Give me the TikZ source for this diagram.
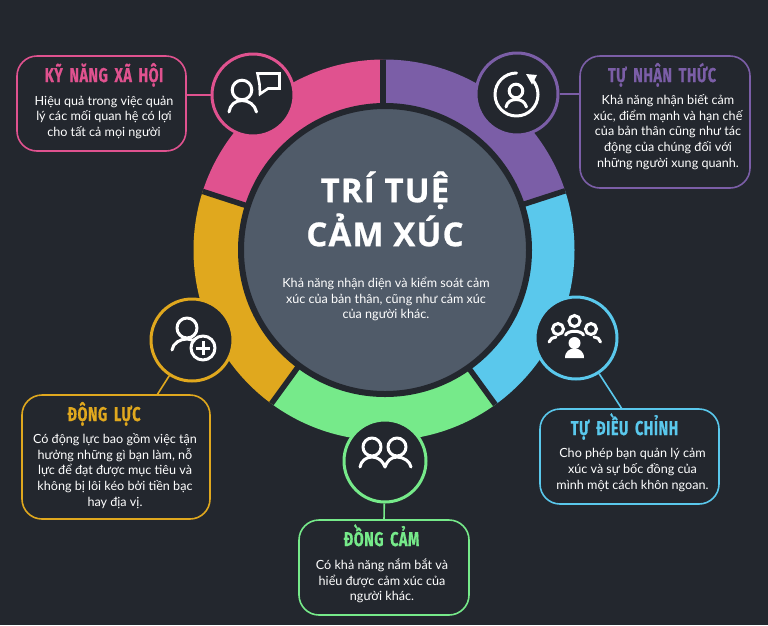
\documentclass[tikz,border=0pt]{standalone}
\usepackage{fontspec}
\usetikzlibrary{calc}
\setmainfont{Lato}
\newfontfamily\headfont[FakeStretch=0.72,LetterSpace=2.5,WordSpace=1.7,BoldFeatures={FakeBold=0.5}]{Fira Sans}
\newfontfamily\titlefont[LetterSpace=3.5,BoldFeatures={FakeBold=0.7}]{Open Sans}
\definecolor{bgdark}{HTML}{23272E}
\definecolor{discgrey}{HTML}{505B69}
\definecolor{cpink}{HTML}{E0528F}
\definecolor{cpurple}{HTML}{7B5EA7}
\definecolor{cblue}{HTML}{5AC8EC}
\definecolor{cgreen}{HTML}{76EA8A}
\definecolor{cyellow}{HTML}{E0A81E}
\tikzset{
  iconcircle/.style={circle,fill=bgdark,draw=#1,line width=3pt,minimum size=82pt,inner sep=0pt},
  infobox/.style={rectangle,rounded corners=20pt,fill=bgdark,draw=#1,line width=1.6pt,inner sep=0pt},
  link/.style={draw=#1,line width=1.6pt},
  headtext/.style={font=\headfont\bfseries\fontsize{20}{20}\selectfont,text=#1,inner sep=0pt,anchor=base},
  bodytext/.style={font=\fontsize{12.6}{15.8}\selectfont,text=white,align=center,inner sep=0pt},
  iconline/.style={draw=white,line width=3pt,line cap=round,line join=round},
}
\begin{document}
\begin{tikzpicture}[x=1pt,y=-1pt]
\useasboundingbox (0,0) rectangle (768,625);
\fill[bgdark] (0,0) rectangle (768,625);
\coordinate (ctr) at (385,250);
\coordinate (ringc) at (384,250);
\coordinate (spokec) at (383,250);
% ring
\begin{scope}
\clip (ringc) circle[radius=190.5pt];
\fill[cpink]   (spokec) -- ($(spokec)+(-90:400)$) -- ($(spokec)+(-126:400)$) -- ($(spokec)+(-162:400)$) -- cycle;
\fill[cpurple] (spokec) -- ($(spokec)+(-90:400)$) -- ($(spokec)+(-54:400)$) -- ($(spokec)+(-18:400)$) -- cycle;
\fill[cblue]   (spokec) -- ($(spokec)+(-18:400)$) -- ($(spokec)+(18:400)$) -- ($(spokec)+(54:400)$) -- cycle;
\fill[cgreen]  (spokec) -- ($(spokec)+(54:400)$) -- ($(spokec)+(90:400)$) -- ($(spokec)+(126:400)$) -- cycle;
\fill[cyellow] (spokec) -- ($(spokec)+(126:400)$) -- ($(spokec)+(162:400)$) -- ($(spokec)+(198:400)$) -- cycle;
\foreach \a in {-90,-18,54,126,198}
  \draw[bgdark,line width=5.5pt] (spokec) -- ($(spokec)+(\a:400)$);
\end{scope}
\node[circle,fill=discgrey,draw=bgdark,line width=6pt,minimum size=288pt,inner sep=0pt] (disc) at (ctr) {};
% free ends
\coordinate (lpink) at (186,95);
\coordinate (lpurple) at (580,94);
\coordinate (lyellow) at (157,395);
\coordinate (lblue) at (622,409);
\coordinate (lgreen) at (384,520);
% boxes
\node[infobox=cpink,minimum width=169pt,minimum height=95pt] (bpink) at (101.5,103.5) {};
\node[infobox=cpurple,minimum width=170pt,minimum height=132pt] (bpurple) at (665,122) {};
\node[infobox=cyellow,minimum width=188pt,minimum height=124pt] (byellow) at (116,457) {};
\node[infobox=cblue,minimum width=179pt,minimum height=95pt] (bblue) at (629.5,456.5) {};
\node[infobox=cgreen,minimum width=170pt,minimum height=95pt] (bgreen) at (384,567.5) {};
% circles
\node[iconcircle=cpink] (cpinkn) at (253,95) {};
\node[iconcircle=cpurple] (cpurplen) at (517,94) {};
\node[iconcircle=cyellow] (cyellown) at (192,340) {};
\node[iconcircle=cblue] (cbluen) at (576,338) {};
\node[iconcircle=cgreen] (cgreenn) at (385,461) {};
% connectors
\draw[link=cpink] (cpinkn) -- (lpink);
\draw[link=cpurple] (cpurplen) -- (lpurple);
\draw[link=cyellow] (cyellown) -- (lyellow);
\draw[link=cblue] (cbluen) -- (lblue);
\draw[link=cgreen] (cgreenn) -- (lgreen);
% centre text
\node[font=\titlefont\bfseries\fontsize{33}{44}\selectfont,text=white,align=center,inner sep=0pt] (title) at (385,209) {TRÍ TUỆ\\CẢM XÚC};
\node[bodytext] (ctext) at (386,299) {Khả năng nhận diện và kiểm soát cảm\\xúc của bản thân, cũng như cảm xúc\\của người khác.};
% headings
\node[headtext=cpink] (hpink) at (104,82) {KỸ NĂNG XÃ HỘI};
\node[headtext=cpurple] (hpurple) at (662,82) {TỰ NHẬN THỨC};
\node[headtext=cyellow] (hyellow) at (104,421) {ĐỘNG LỰC};
\node[headtext=cblue] (hblue) at (624.5,435) {TỰ ĐIỀU CHỈNH};
\node[headtext=cgreen] (hgreen) at (381.5,546) {ĐỒNG CẢM};
% body
\node[bodytext] (tpink) at (104,117.5) {Hiệu quả trong việc quản\\lý các mối quan hệ có lợi\\cho tất cả mọi người};
\node[bodytext] (tpurple) at (668,132) {Khả năng nhận biết cảm\\xúc, điểm mạnh và hạn chế\\của bản thân cũng như tác\\động của chúng đối với\\những người xung quanh.};
\node[bodytext] (tyellow) at (115,471) {Có động lực bao gồm việc tận\\hưởng những gì bạn làm, nỗ\\lực để đạt được mục tiêu và\\không bị lôi kéo bởi tiền bạc\\hay địa vị.};
\node[bodytext] (tblue) at (632.5,470) {Cho phép bạn quản lý cảm\\xúc và sự bốc đồng của\\mình một cách khôn ngoan.};
\node[bodytext] (tgreen) at (382,581) {Có khả năng nắm bắt và\\hiểu được cảm xúc của\\người khác.};
% icon: person + speech bubble
\draw[iconline] (242,90) circle[radius=9.8pt];
\draw[iconline] (229,112) .. controls (230,105) and (235,100.5) .. (242,100.5) .. controls (249,100.5) and (255,105) .. (256.5,112);
\draw[draw=white,line width=2.6pt,line join=miter] (257.5,73.5) -- (279.5,73.5) -- (279.5,88.5) -- (268,88.5) -- (260,94) -- (259.5,84) -- cycle;
% icon: self awareness
\draw[iconline] (516.5,73) .. controls (504.6,73) and (495,82.6) .. (495,94.5) .. controls (495,106.4) and (504.6,116) .. (516.5,116) .. controls (528.4,116) and (538,106.4) .. (538,94.5) .. controls (538,88.5) and (535.8,83.4) .. (532,79.5);
\fill[white] (526,74) -- (537,75) -- (532,84.5) -- cycle;
\draw[iconline] (516,91) circle[radius=6.8pt];
\draw[iconline] (506,107) .. controls (507,102) and (511,99.5) .. (516,99.5) .. controls (521,99.5) and (525,102) .. (526.5,107);
% icon: person plus
\draw[iconline] (187,328) circle[radius=10pt];
\draw[iconline] (172,350) .. controls (173,343) and (180,339) .. (187,339) .. controls (190,339) and (192,340) .. (194,341);
\draw[iconline] (203,348) circle[radius=12pt];
\draw[draw=white,line width=3pt] (196,348) -- (210,348) (203,341) -- (203,355);
% icon: group
\foreach \hx/\hy in {558/329,574.5/321,591/329}
  \draw[draw=white,line width=3pt] (\hx,\hy) circle[radius=5.5pt];
\draw[iconline] (549,342) .. controls (550,339) and (553,337) .. (556,337);
\draw[iconline] (600.5,342) .. controls (600,339) and (597,337) .. (594,337);
\draw[iconline] (565.5,335) .. controls (568,330) and (581,330) .. (583.5,335);
\fill[white] (574.5,343) circle[radius=6pt];
\fill[white] (565,358) .. controls (565,351) and (570,348.5) .. (574.5,348.5) .. controls (579,348.5) and (584,351) .. (584,358) -- cycle;
% icon: two persons
\draw[iconline] (372,447) circle[radius=9pt];
\draw[iconline] (397,447) circle[radius=9pt];
\draw[iconline] (360,467) .. controls (361,461) and (366,457) .. (372,457) .. controls (378,457) and (383,461) .. (385,467) .. controls (387,461) and (391,457) .. (397,457) .. controls (403,457) and (410,461) .. (411,467);
\end{tikzpicture}
\end{document}
